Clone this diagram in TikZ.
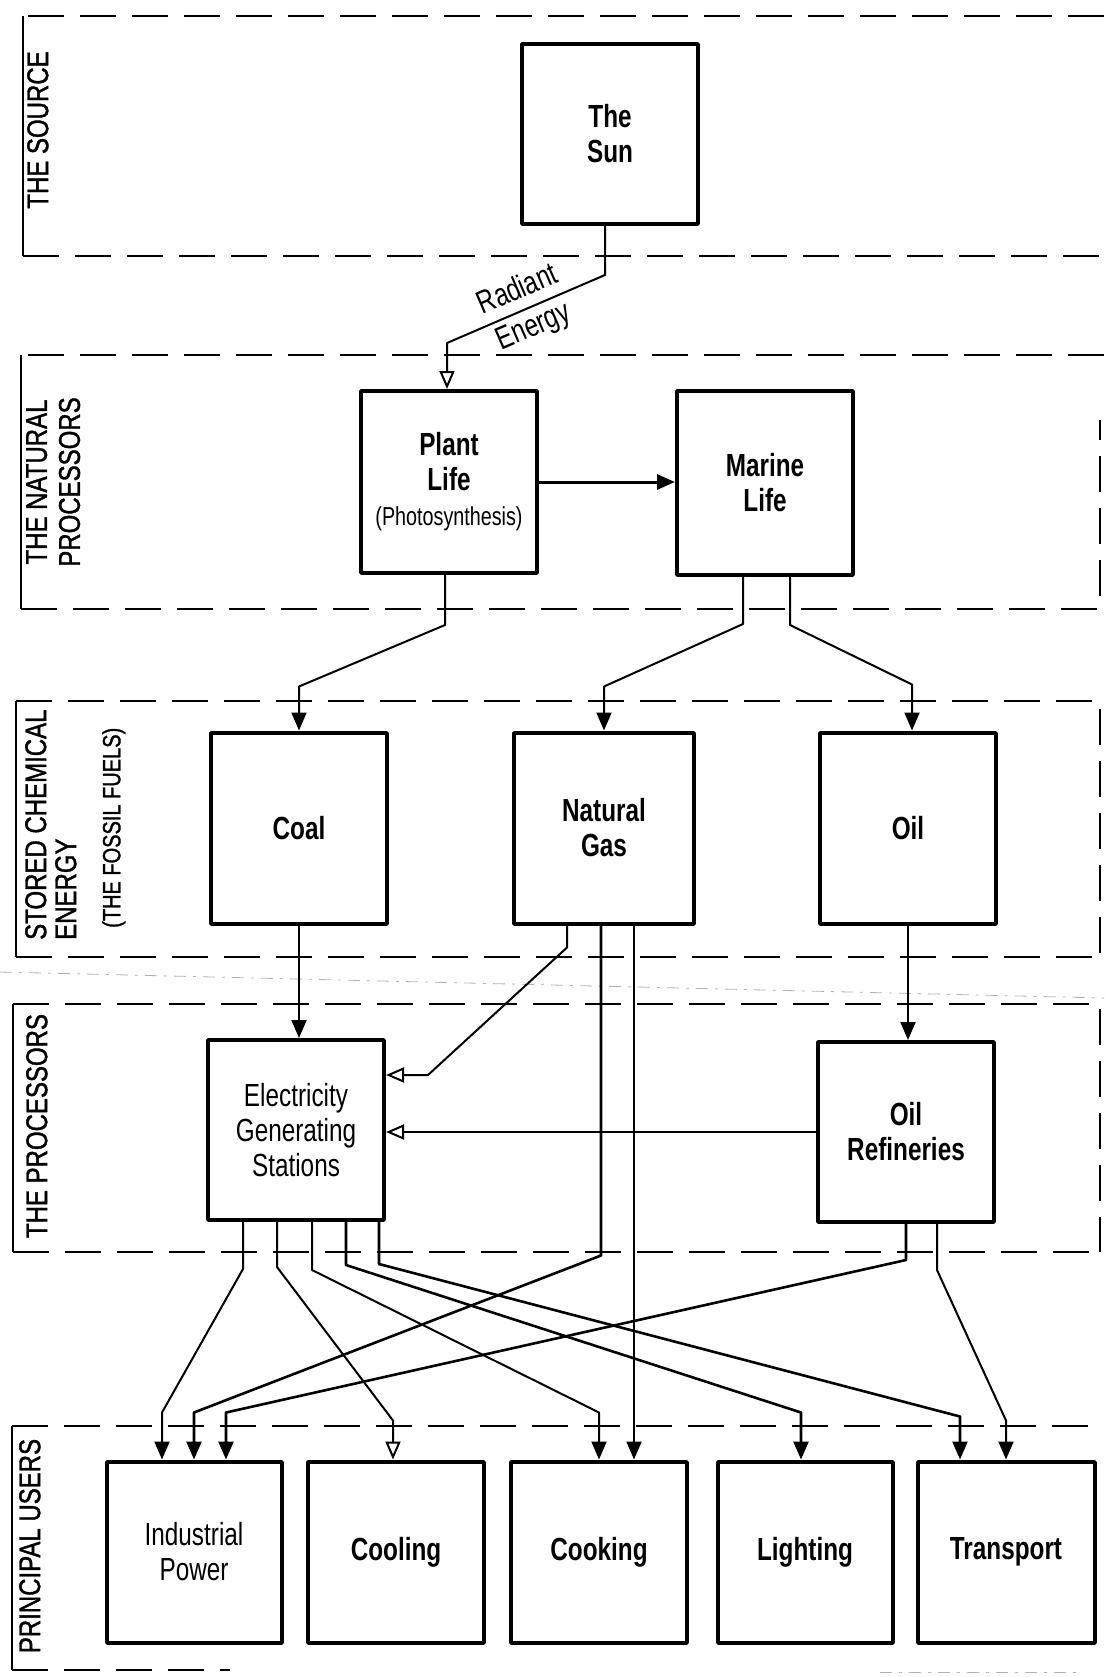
\documentclass[tikz,border=0pt]{standalone}
\usepackage{fontspec}
\setmainfont{Liberation Sans}
\newfontfamily\boxfont{Liberation Sans}[FakeStretch=0.76]
\newfontfamily\bandfont{Liberation Sans}[FakeStretch=0.8,FakeBold=1.2]
\usetikzlibrary{arrows.meta}
\begin{document}
\begin{tikzpicture}[x=1pt,y=-1pt,line join=bevel,
  box/.style={draw,line width=4pt,minimum width=176pt,minimum height=182pt,inner sep=0pt,align=center,
    font=\boxfont\bfseries\fontsize{32}{35}\selectfont},
  thin text/.style={font=\boxfont\fontsize{32}{35}\selectfont},
  arr/.style={line width=2pt,-{Triangle[length=18pt,width=15pt]}},
  openarr/.style={line width=2pt,-{Triangle[open,length=18pt,width=15pt]}},
  band/.style={line width=2pt,dash pattern=on 36pt off 16pt},
  bar/.style={line width=2pt},
  faint/.style={gray!60,line width=0.8pt,dash pattern=on 12pt off 7pt on 3pt off 7pt},
  lbl/.style={rotate=90,anchor=north,inner sep=0pt,font=\bandfont\fontsize{30}{33}\selectfont},
  energy/.style={sloped,align=center,inner sep=0pt,font=\boxfont\fontsize{32}{40}\selectfont},
]
\useasboundingbox (0,0) rectangle (1104,1677);
%% bands
\draw [band] (1104,16) -- (23,16);
\draw [bar] (23,16) -- (23,256);
\draw [band] (23,256) -- (1104,256);
%
\draw [band] (1104,355) -- (21,355);
\draw [bar] (21,355) -- (21,609);
\draw [band] (21,609) -- (1100,609) -- (1100,420);
%
\draw [band] (16,701) -- (1100,701) -- (1100,957);
\draw [bar] (16,701) -- (16,957);
\draw [band] (16,957) -- (1100,957);
\draw [faint] (0,972) -- (1104,998);
%
\draw [band] (13,1004) -- (1100,1004) -- (1100,1252);
\draw [bar] (13,1004) -- (13,1252);
\draw [band] (13,1252) -- (1100,1252);
%
\draw [band] (12,1426) -- (1104,1426);
\draw [bar] (12,1426) -- (12,1670);
\draw [band] (12,1670) -- (230,1670);
\draw [faint] (880,1672) -- (1080,1672);
%% band labels
\node (lbl_source) at (27,130) [lbl] {THE SOURCE};
\node (lbl_natural) at (26,482) [lbl,align=center] {THE NATURAL\\PROCESSORS};
\node (lbl_stored_a) at (25,940) [lbl,anchor=north west] {STORED CHEMICAL};
\node (lbl_stored_b) at (55,940) [lbl,anchor=north west] {ENERGY};
\node (lbl_stored_c) at (102,928) [lbl,anchor=north west,font=\bandfont\fontsize{25}{28}\selectfont] {(THE FOSSIL FUELS)};
\node (lbl_proc) at (26,1126) [lbl] {THE PROCESSORS};
\node (lbl_users) at (19,1546) [lbl] {PRINCIPAL USERS};
%% boxes
\node (node_sun) at (610,134) [box,minimum height=180pt] {The\\Sun};
\node (node_plant) at (449,482) [box] {Plant\\Life\\{\mdseries\fontsize{26}{30}\selectfont(Photosynthesis)}};
\node (node_marine) at (765,483) [box,minimum height=184pt] {Marine\\Life};
\node (node_coal) at (299,828) [box,minimum height=191pt] {Coal};
\node (node_gas) at (604,828) [box,minimum width=180pt,minimum height=191pt] {Natural\\Gas};
\node (node_oil) at (908,828) [box,minimum height=191pt] {Oil};
\node (node_elec) at (296,1130) [box,thin text,minimum height=180pt] {Electricity\\Generating\\Stations};
\node (node_refin) at (906,1132) [box,minimum height=180pt] {Oil\\Refineries};
\node (node_ind) at (194,1552) [box,thin text,minimum width=175pt,minimum height=181pt] {Industrial\\Power};
\node (node_cool) at (396,1552) [box,minimum height=181pt] {Cooling};
\node (node_cook) at (599,1552) [box,minimum height=181pt] {Cooking};
\node (node_light) at (805,1552) [box,minimum width=175pt,minimum height=181pt] {Lighting};
\node (node_trans) at (1006,1552) [box,minimum width=177pt,minimum height=181pt] {Transport};
%% connectors
\draw [openarr] ([xshift=-5pt]node_sun.south) -- ++(0,49) -- node (lbl_energy) [energy,pos=0.5] {Radiant\\Energy} ([xshift=-2pt,yshift=46pt]node_plant.north) -- ([xshift=-2pt]node_plant.north);
\draw [arr,line width=3pt] (node_plant.east) -- (node_plant.east -| node_marine.west);
\draw [arr] ([xshift=-4pt]node_plant.south) -- ++(0,50) -- ([yshift=44pt]node_coal.north) -- (node_coal.north);
\draw [arr] ([xshift=-22pt]node_marine.south) -- ++(0,47) -- ([yshift=44pt]node_gas.north) -- (node_gas.north);
\draw [arr] ([xshift=25pt]node_marine.south) -- ++(0,48) -- ([xshift=4pt,yshift=46pt]node_oil.north) -- ([xshift=4pt]node_oil.north);
%
\draw [arr] (node_coal.south) -- (node_coal.south |- node_elec.north);
\draw [openarr] ([xshift=-37pt]node_gas.south) -- ++(0,22) -- ([xshift=42pt,yshift=55pt]node_elec.east) -- ([yshift=55pt]node_elec.east);
\draw [arr] (node_oil.south) -- (node_oil.south |- node_refin.north);
\draw [openarr] (node_refin.west) -- (node_refin.west -| node_elec.east);
%
\draw [arr,line width=2.6pt] ([xshift=-3pt]node_gas.south) -- ++(0,330) -- ([yshift=47pt]node_ind.north) -- (node_ind.north);
\draw [arr] ([xshift=30pt]node_gas.south) -- ([xshift=35pt]node_cook.north);
\draw [arr,line width=2.6pt] (node_refin.south) -- ++(0,36) -- ([xshift=32pt,yshift=47pt]node_ind.north) -- ([xshift=32pt]node_ind.north);
\draw [arr] ([xshift=31pt]node_refin.south) -- ++(0,46) -- ([yshift=39pt]node_trans.north) -- (node_trans.north);
%
\draw [arr] ([xshift=-53pt]node_elec.south) -- ++(0,47) -- ([xshift=-32pt,yshift=47pt]node_ind.north) -- ([xshift=-32pt]node_ind.north);
\draw [openarr] ([xshift=-19pt]node_elec.south) -- ++(0,45) -- ([xshift=-3pt,yshift=39pt]node_cool.north) -- ([xshift=-3pt]node_cool.north);
\draw [arr] ([xshift=16pt]node_elec.south) -- ++(0,48) -- ([yshift=47pt]node_cook.north) -- (node_cook.north);
\draw [arr,line width=2.6pt] ([xshift=50pt]node_elec.south) -- ++(0,43) -- ([xshift=-4pt,yshift=47pt]node_light.north) -- ([xshift=-4pt]node_light.north);
\draw [arr,line width=2.6pt] ([xshift=83pt]node_elec.south) -- ++(0,42) -- ([xshift=-46pt,yshift=43pt]node_trans.north) -- ([xshift=-46pt]node_trans.north);
%
\end{tikzpicture}
\end{document}
